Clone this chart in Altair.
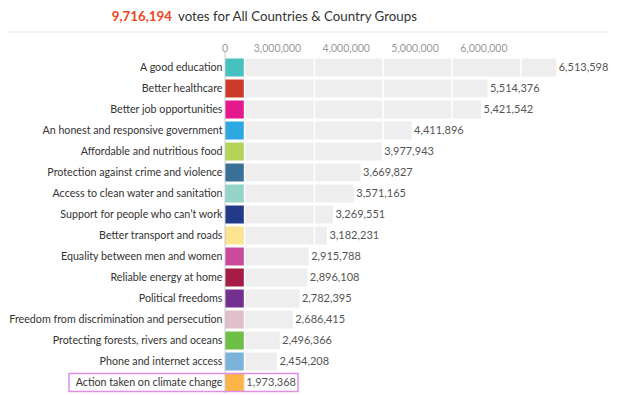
import altair as alt
import pandas as pd

categories = [
    "A good education",
    "Better healthcare",
    "Better job opportunities",
    "An honest and responsive government",
    "Affordable and nutritious food",
    "Protection against crime and violence",
    "Access to clean water and sanitation",
    "Support for people who can’t work",
    "Better transport and roads",
    "Equality between men and women",
    "Reliable energy at home",
    "Political freedoms",
    "Freedom from discrimination and persecution",
    "Protecting forests, rivers and oceans",
    "Phone and internet access",
    "Action taken on climate change",
]
votes = [6513598, 5514376, 5421542, 4411896, 3977943, 3669827, 3571165, 3269551,
         3182231, 2915788, 2896108, 2782395, 2686415, 2496366, 2454208, 1973368]
colors = ["#47c1bf", "#cc3a2b", "#e5198b", "#2ea8e0", "#b5d35a", "#3b7197",
          "#96d3c8", "#233a88", "#fbe38f", "#c94a9c", "#a51c45", "#74308f",
          "#e0bfcb", "#6dbf45", "#7bb4d8", "#fbb448"]
tick_values = [3000000, 4000000, 5000000, 6000000]
total_votes = "9,716,194"
title_rest = "votes for All Countries & Country Groups"
highlight = "Action taken on climate change"

D0 = 1700000
DMAX = 7281000
W, H = 384, 336

df = pd.DataFrame({"category": categories, "value": votes, "order": range(len(categories))})
ticks = pd.DataFrame({"tick": tick_values})
origin = pd.DataFrame({"d0": [D0], "label": ["0"]})

xscale = alt.Scale(domain=[D0, DMAX], zero=False, nice=False)
yenc = alt.Y("category:N", sort=categories,
             scale=alt.Scale(paddingInner=3 / 21, paddingOuter=1.5 / 21),
             axis=alt.Axis(title=None, domain=False, ticks=False, labelPadding=3,
                           labelFontSize=10.7, labelColor="#333333", labelLimit=300))

base = alt.Chart(df).transform_joinaggregate(minv="min(value)").transform_calculate(d0=str(D0))

gray = base.mark_bar(color="#eeeeee", xOffset=1.5).encode(
    x=alt.X("minv:Q", scale=xscale, axis=None),
    x2="value:Q",
    y=yenc,
)

squares = base.mark_bar().encode(
    x=alt.X("d0:Q", axis=None),
    x2="minv:Q",
    y=yenc,
    color=alt.Color("category:N", scale=alt.Scale(domain=categories, range=colors), legend=None),
)

grid = alt.Chart(ticks).mark_rule(color="white", strokeWidth=1.5).encode(
    x=alt.X("tick:Q", axis=None))

tick_labels = alt.Chart(ticks).mark_text(fontSize=10.5, color="#999999", baseline="bottom", dx=-37).encode(
    x=alt.X("tick:Q", axis=None), y=alt.value(-3), text=alt.Text("tick:Q", format=","))

axis_line = alt.Chart(origin).mark_rule(color="#cccccc", strokeWidth=1).encode(
    x=alt.X("d0:Q", axis=None), y=alt.value(-5), y2=alt.value(H + 10))
zero_label = alt.Chart(origin).mark_text(fontSize=10.5, color="#999999", baseline="bottom").encode(
    x=alt.X("d0:Q", axis=None), y=alt.value(-3), text="label:N")

labels = base.mark_text(align="left", baseline="middle", dx=2.5, fontSize=11, color="#555555").encode(
    x=alt.X("value:Q", axis=None), y=yenc, text=alt.Text("value:Q", format=","))

box = base.transform_filter(alt.datum.category == highlight).mark_rect(
    fillOpacity=0, stroke="#e28ee8", strokeWidth=1.5).encode(
    x=alt.value(-156), x2=alt.value(73), y=yenc)

divider = alt.Chart(origin).mark_rule(color="#e8e8e8", strokeWidth=1).encode(
    x=alt.value(-225), x2=alt.value(W), y=alt.value(-25))
t1 = alt.Chart(origin).mark_text(text=total_votes, align="right", baseline="alphabetic",
                                 fontSize=13.3, fontWeight="bold", color="#f0461e").encode(
    x=alt.value(-53), y=alt.value(-36))
t2 = alt.Chart(origin).mark_text(text=title_rest, align="left", baseline="alphabetic",
                                 fontSize=13.3, color="#333333").encode(
    x=alt.value(-47), y=alt.value(-36))

chart = alt.layer(gray, squares, grid, tick_labels, axis_line, zero_label, labels, box,
                  divider, t1, t2).properties(
    width=W, height=H,
    autosize=alt.AutoSizeParams(type="none"),
    padding={"left": 217, "top": 49, "right": 0, "bottom": 0},
).configure(font="Lato").configure_view(stroke=None)

chart.save("out.html", embed_options={"renderer": "svg", "actions": False})
